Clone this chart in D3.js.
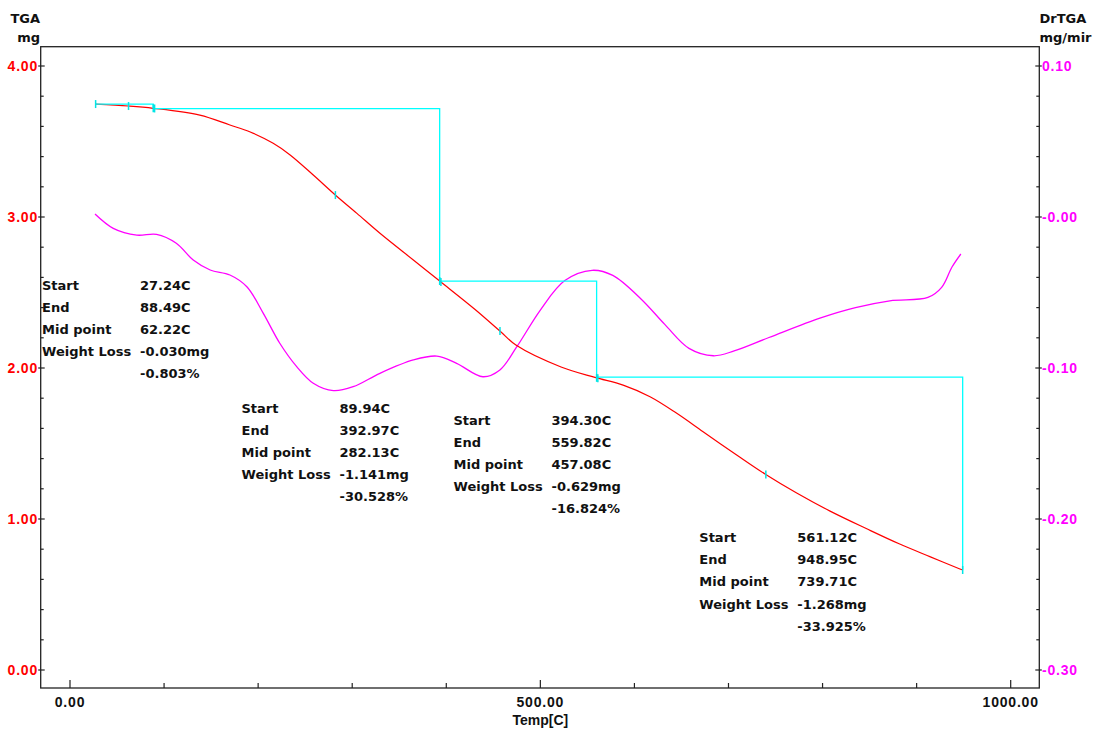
<!DOCTYPE html>
<html><head><meta charset="utf-8">
<script src="https://cdn.jsdelivr.net/npm/d3@7"></script>
<style>body{margin:0;background:#fff}svg{display:block}</style>
</head><body><svg id="c" width="1097" height="734"></svg>
<script>
// ---- data ----
const tgaTemp = [27.2, 62, 88.5, 138, 170, 191, 216, 234, 258.6, 282, 305, 329.5, 365, 393, 430, 457, 474, 522, 558, 588, 616.6, 645, 673, 708.7, 738.8, 772.5, 808, 847, 882, 914, 946, 949];
const tgaMg   = [3.748, 3.735, 3.72, 3.675, 3.609, 3.565, 3.488, 3.411, 3.278, 3.146, 3.024, 2.892, 2.715, 2.576, 2.391, 2.245, 2.152, 2.007, 1.938, 1.887, 1.810, 1.700, 1.578, 1.424, 1.298, 1.172, 1.052, 0.935, 0.834, 0.751, 0.669, 0.662];

const dtgTemp = [26.6, 46, 71, 92, 113, 131, 149, 170, 188, 205.5, 223, 241, 258.6, 280, 301, 329.5, 365, 390, 411, 439, 457, 475, 500, 526, 555, 577, 607, 632.5, 658, 684, 706, 743, 798, 835, 871.5, 912, 926.6, 937.6, 947];
const dtgVal  = [0.002, -0.0075, -0.012, -0.0115, -0.0174, -0.0285, -0.0351, -0.0384, -0.0462, -0.0638, -0.0836, -0.0991, -0.1101, -0.115, -0.1124, -0.1035, -0.0947, -0.0921, -0.0969, -0.1058, -0.1013, -0.0859, -0.0616, -0.0421, -0.0353, -0.0387, -0.0543, -0.0713, -0.087, -0.0919, -0.0887, -0.0798, -0.0668, -0.060, -0.0555, -0.0533, -0.0466, -0.0331, -0.0245];

const stepStart = [27.24, 89.94, 394.30, 561.12];
const stepEnd   = [88.49, 392.97, 559.82, 948.95];
const stepMid   = [62.22, 282.13, 457.08, 739.71];
const stepLevel = [3.748, 3.718, 2.575, 1.940, 0.665];
const stepLossMg  = ["-0.030mg", "-1.141mg", "-0.629mg", "-1.268mg"];
const stepLossPct = ["-0.803%", "-30.528%", "-16.824%", "-33.925%"];
const rowNames = ["Start", "End", "Mid point", "Weight Loss", ""];

const xTicks = [0, 500, 1000];
const xTickLabels = ["0.00", "500.00", "1000.00"];
const tgaTicks = [0, 1, 2, 3, 4];
const tgaTickLabels = ["0.00", "1.00", "2.00", "3.00", "4.00"];
const dtgTicks = [-0.30, -0.20, -0.10, 0.00, 0.10];
const dtgTickLabels = ["-0.30", "-0.20", "-0.10", "-0.00", "0.10"];

// ---- layout ----
const frame = {left: 40.7, right: 1039.3, top: 46.7, bottom: 688};
const blockPos = [[42, 285], [241.5, 408], [453.5, 420], [699.3, 537.5]];
const rowGap = 22.2, valueOffset = 98;

const svg = d3.select("#c");
const x = d3.scaleLinear().domain([0, 1000]).range([70, 1010.7]);
const yL = d3.scaleLinear().domain([0, 4]).range([670, 66]);
const yR = d3.scaleLinear().domain([-0.30, 0.10]).range([670, 66]);

const tickFont = "'Liberation Sans', Arial, sans-serif";
const annFont = "'DejaVu Sans', sans-serif";

// frame
svg.append("rect").attr("x", frame.left).attr("y", frame.top)
  .attr("width", frame.right - frame.left).attr("height", frame.bottom - frame.top)
  .attr("fill", "none").attr("stroke", "#222").attr("stroke-width", 1.3);

const g = svg.append("g").attr("stroke", "#222").attr("stroke-width", 1.2);
d3.range(0, 1001, 100).forEach(t => {
  const major = xTicks.includes(t);
  g.append("line").attr("x1", x(t)).attr("x2", x(t))
    .attr("y1", frame.bottom).attr("y2", frame.bottom - (major ? 8 : 5));
});
d3.range(0, 4.01, 0.2).forEach(v => {
  const major = Math.abs(v - Math.round(v)) < 1e-6;
  g.append("line").attr("y1", yL(v)).attr("y2", yL(v))
    .attr("x1", major ? frame.left - 2.5 : frame.left).attr("x2", frame.left + (major ? 4 : 3));
});
d3.range(-0.30, 0.1001, 0.02).forEach(v => {
  const major = Math.abs(v * 10 - Math.round(v * 10)) < 1e-6;
  g.append("line").attr("y1", yR(v)).attr("y2", yR(v))
    .attr("x1", frame.right - (major ? 4 : 3)).attr("x2", major ? frame.right + 2.5 : frame.right);
});

// tick labels
svg.append("g").selectAll("text").data(xTicks).join("text")
  .attr("x", d => x(d)).attr("y", 707).attr("text-anchor", "middle")
  .attr("font-family", tickFont).attr("font-weight", "bold").attr("font-size", 14)
  .attr("letter-spacing", 0.8).attr("fill", "#111")
  .text((d, i) => xTickLabels[i]);
svg.append("g").selectAll("text").data(tgaTicks).join("text")
  .attr("x", 38).attr("y", d => yL(d) + 5).attr("text-anchor", "end")
  .attr("font-family", tickFont).attr("font-weight", "bold").attr("font-size", 14)
  .attr("letter-spacing", 0.8).attr("fill", "#ff0000")
  .text((d, i) => tgaTickLabels[i]);
svg.append("g").selectAll("text").data(dtgTicks).join("text")
  .attr("x", 1042).attr("y", d => yR(d) + 5).attr("text-anchor", "start")
  .attr("font-family", tickFont).attr("font-weight", "bold").attr("font-size", 14)
  .attr("letter-spacing", 0.8).attr("fill", "#ff00ff")
  .text((d, i) => dtgTickLabels[i]);

// axis titles
const tf = {fam: "'DejaVu Sans', sans-serif", size: 13};
svg.append("text").attr("x", 40).attr("y", 22.5).attr("text-anchor", "end")
  .attr("font-family", tf.fam).attr("font-size", tf.size).attr("font-weight", "bold").attr("fill", "#111").text("TGA");
svg.append("text").attr("x", 40).attr("y", 42).attr("text-anchor", "end")
  .attr("font-family", tf.fam).attr("font-size", tf.size).attr("font-weight", "bold").attr("fill", "#111").text("mg");
svg.append("text").attr("x", 1039.5).attr("y", 22.5)
  .attr("font-family", tf.fam).attr("font-size", tf.size).attr("font-weight", "bold").attr("fill", "#111").text("DrTGA");
svg.append("text").attr("x", 1039.5).attr("y", 42)
  .attr("font-family", tf.fam).attr("font-size", tf.size).attr("font-weight", "bold").attr("fill", "#111").text("mg/mir");
svg.append("text").attr("x", x(500)).attr("y", 725).attr("text-anchor", "middle")
  .attr("font-family", tickFont).attr("font-weight", "bold").attr("font-size", 14)
  .attr("fill", "#111").text("Temp[C]");

// DrTGA curve
const dtgData = dtgTemp.map((t, i) => [t, dtgVal[i]]);
svg.append("path").datum(dtgData)
  .attr("d", d3.line().x(d => x(d[0])).y(d => yR(d[1])).curve(d3.curveCatmullRom.alpha(0.5)))
  .attr("fill", "none").attr("stroke", "#ff00ff").attr("stroke-width", 1.3);

// TGA curve
const tgaData = tgaTemp.map((t, i) => [t, tgaMg[i]]);
svg.append("path").datum(tgaData)
  .attr("d", d3.line().x(d => x(d[0])).y(d => yL(d[1])).curve(d3.curveCatmullRom.alpha(0.5)))
  .attr("fill", "none").attr("stroke", "#ff0000").attr("stroke-width", 1.2);

// step lines
const stepPath = d3.path();
stepStart.forEach((s, i) => {
  stepPath.moveTo(x(s), yL(stepLevel[i]));
  stepPath.lineTo(x(stepEnd[i]), yL(stepLevel[i]));
  stepPath.lineTo(x(stepEnd[i]), yL(stepLevel[i + 1]));
});
svg.append("path").attr("d", stepPath.toString())
  .attr("fill", "none").attr("stroke", "#00ffff").attr("stroke-width", 1.3);

// markers on the TGA curve at start / mid / end
const interp = t => {
  const i = Math.max(1, Math.min(tgaTemp.length - 1, d3.bisectLeft(tgaTemp, t)));
  const t0 = tgaTemp[i - 1], t1 = tgaTemp[i];
  return tgaMg[i - 1] + (tgaMg[i] - tgaMg[i - 1]) * (t - t0) / (t1 - t0);
};
const markTemps = [].concat(stepStart, stepMid, stepEnd);
svg.append("g").selectAll("line").data(markTemps).join("line")
  .attr("x1", d => x(d)).attr("x2", d => x(d))
  .attr("y1", d => yL(interp(d)) - 4).attr("y2", d => yL(interp(d)) + 4)
  .attr("stroke", "#00e5e5").attr("stroke-width", 1.5);

// annotation blocks
stepStart.forEach((s, i) => {
  const [bx, by] = blockPos[i];
  const vals = [s.toFixed(2) + "C", stepEnd[i].toFixed(2) + "C", stepMid[i].toFixed(2) + "C", stepLossMg[i], stepLossPct[i]];
  const gb = svg.append("g").attr("font-family", annFont).attr("font-weight", "bold")
    .attr("font-size", 13).attr("fill", "#111");
  rowNames.forEach((r, j) => {
    if (r) gb.append("text").attr("x", bx).attr("y", by + j * rowGap + 4.5).text(r);
    gb.append("text").attr("x", bx + valueOffset).attr("y", by + j * rowGap + 4.5).text(vals[j]);
  });
});
</script></body></html>
